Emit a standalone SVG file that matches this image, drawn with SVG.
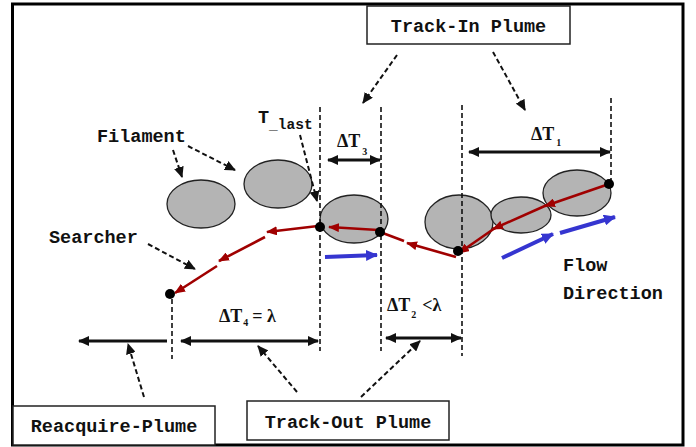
<svg xmlns="http://www.w3.org/2000/svg" width="696" height="447" viewBox="0 0 696 447">
<defs>
<style>
.lbl{font-family:"Liberation Mono","Courier New",monospace;font-size:18.5px;font-weight:bold;fill:#111}
.dt{font-family:"Liberation Serif","Times New Roman",serif;font-size:18px;font-weight:bold;fill:#111}
.sub{font-size:10px}
.box{fill:#fff;stroke:#222;stroke-width:1.5}
.fil{fill:#b4b4b4;stroke:#222;stroke-width:1.3}
.vd{stroke:#111;stroke-width:1.6;stroke-dasharray:5 3;fill:none}
.da{stroke:#111;stroke-width:2;stroke-dasharray:5 3;fill:none;marker-end:url(#ah)}
.dim{stroke:#111;stroke-width:3;fill:none;marker-end:url(#ah)}
.dim2{stroke:#111;stroke-width:3;fill:none;marker-end:url(#ah);marker-start:url(#ah)}
.red{stroke:#a00000;stroke-width:2.6;fill:none;marker-end:url(#ar)}
.redp{stroke:#a00000;stroke-width:2.6;fill:none}
.blue{stroke:#3535d0;stroke-width:4;fill:none;marker-end:url(#ab)}
.dot{fill:#000}
</style>
<marker id="ah" markerUnits="userSpaceOnUse" markerWidth="11" markerHeight="10" refX="10" refY="5" orient="auto-start-reverse"><path d="M0,0 L11,5 L0,10 z" fill="#111"/></marker>
<marker id="ar" markerUnits="userSpaceOnUse" markerWidth="11" markerHeight="9" refX="10" refY="4.5" orient="auto"><path d="M0,0 L11,4.5 L0,9 z" fill="#a00000"/></marker>
<marker id="ab" markerUnits="userSpaceOnUse" markerWidth="12" markerHeight="11" refX="11" refY="5.5" orient="auto"><path d="M0,0 L12,5.5 L0,11 z" fill="#3535d0"/></marker>
</defs>
<rect x="0" y="0" width="696" height="447" fill="#fff"/>
<rect x="12.5" y="4" width="670.5" height="441" fill="none" stroke="#000" stroke-width="3"/>

<g id="filament-1"><ellipse class="fil" cx="201" cy="204" rx="34" ry="24"/></g>
<g id="filament-2"><ellipse class="fil" cx="278" cy="184" rx="34" ry="24"/></g>
<g id="filament-3"><ellipse class="fil" cx="354" cy="219" rx="34" ry="24"/></g>
<g id="filament-4"><ellipse class="fil" cx="459" cy="222" rx="34" ry="27"/></g>
<g id="filament-5"><ellipse class="fil" cx="521" cy="215" rx="30" ry="18"/></g>
<g id="filament-6"><ellipse class="fil" cx="577" cy="193" rx="34" ry="23"/></g>

<g id="connectors">
<!-- vertical dashed guides -->
<line class="vd" x1="172" y1="299" x2="172" y2="359"/>
<line class="vd" x1="320" y1="107" x2="320" y2="351"/>
<line class="vd" x1="381" y1="107" x2="381" y2="351"/>
<line class="vd" x1="462" y1="105" x2="462" y2="356"/>
<line class="vd" x1="611" y1="98" x2="611" y2="184"/>
<!-- dimension arrows -->
<line class="dim2" x1="469" y1="152" x2="610" y2="152"/>
<line class="dim" x1="364" y1="160" x2="328" y2="160"/>
<line class="dim" x1="364" y1="160" x2="380" y2="160"/>
<line class="dim2" x1="181" y1="341" x2="318" y2="341"/>
<line class="dim" x1="167" y1="341" x2="79" y2="341"/>
<line class="dim2" x1="386" y1="338" x2="461" y2="338"/>
<!-- dashed label arrows -->
<line class="da" x1="397" y1="55" x2="363" y2="103"/>
<line class="da" x1="493" y1="52" x2="525" y2="110"/>
<line class="da" x1="173" y1="150" x2="182" y2="177"/>
<line class="da" x1="188" y1="146" x2="235" y2="170"/>
<line class="da" x1="300" y1="135" x2="317" y2="201"/>
<line class="da" x1="148" y1="244" x2="195" y2="269"/>
<line class="da" x1="144" y1="397" x2="128" y2="344"/>
<line class="da" x1="297" y1="392" x2="258" y2="346"/>
<line class="da" x1="361" y1="397" x2="420" y2="341"/>
<!-- searcher path (red) -->
<line class="red" x1="609" y1="184" x2="545" y2="206"/>
<line class="red" x1="547" y1="205" x2="493" y2="229"/>
<line class="red" x1="495" y1="228" x2="459" y2="253"/>
<line class="red" x1="456" y1="257" x2="407" y2="243"/>
<line class="redp" x1="380" y1="232" x2="404" y2="241"/>
<line class="red" x1="378" y1="230" x2="329" y2="227"/>
<line class="red" x1="318" y1="226" x2="267" y2="232"/>
<line class="red" x1="265" y1="237" x2="219" y2="261"/>
<line class="red" x1="217" y1="266" x2="175" y2="293"/>
<!-- flow direction (blue) -->
<line class="blue" x1="325" y1="257" x2="377" y2="255"/>
<line class="blue" x1="502" y1="258" x2="553" y2="234"/>
<line class="blue" x1="560" y1="233" x2="615" y2="217"/>
</g>

<g id="dot-1"><circle class="dot" cx="609" cy="184" r="5"/></g>
<g id="dot-2"><circle class="dot" cx="458" cy="251" r="5"/></g>
<g id="dot-3"><circle class="dot" cx="380" cy="232" r="5"/></g>
<g id="dot-4"><circle class="dot" cx="320" cy="227" r="5"/></g>
<g id="dot-5"><circle class="dot" cx="170" cy="294" r="5"/></g>

<g id="track-in-plume"><rect class="box" x="367" y="6" width="203" height="38"/><text class="lbl" x="468.5" y="32" text-anchor="middle">Track-In Plume</text></g>
<g id="reacquire-plume"><rect class="box" x="13" y="406" width="202" height="39"/><text class="lbl" x="114" y="432" text-anchor="middle">Reacquire-Plume</text></g>
<g id="track-out-plume"><rect class="box" x="247" y="401" width="202" height="39"/><text class="lbl" x="348" y="428" text-anchor="middle">Track-Out Plume</text></g>
<g id="filament-label"><text class="lbl" x="97" y="142">Filament</text></g>
<g id="searcher-label"><text class="lbl" x="49" y="243">Searcher</text></g>
<g id="tlast-label"><text class="lbl" x="258" y="123">T<tspan y="129" style="font-size:14.5px">_last</tspan></text></g>
<g id="flow-label"><text class="lbl" x="563" y="271">Flow</text><text class="lbl" x="563" y="299">Direction</text></g>
<g id="dt1"><text class="dt" x="531" y="140">ΔT<tspan class="sub" dx="2" y="146">1</tspan></text></g>
<g id="dt3"><text class="dt" x="337" y="147">ΔT<tspan class="sub" dx="2" y="155">3</tspan></text></g>
<g id="dt4"><text class="dt" x="219" y="322">ΔT<tspan class="sub" dx="1" y="326">4</tspan><tspan dx="4" y="322">= λ</tspan></text></g>
<g id="dt2"><text class="dt" x="387" y="311">ΔT<tspan class="sub" dx="1" y="318">2</tspan><tspan dx="6" y="311">&lt;λ</tspan></text></g>
</svg>
